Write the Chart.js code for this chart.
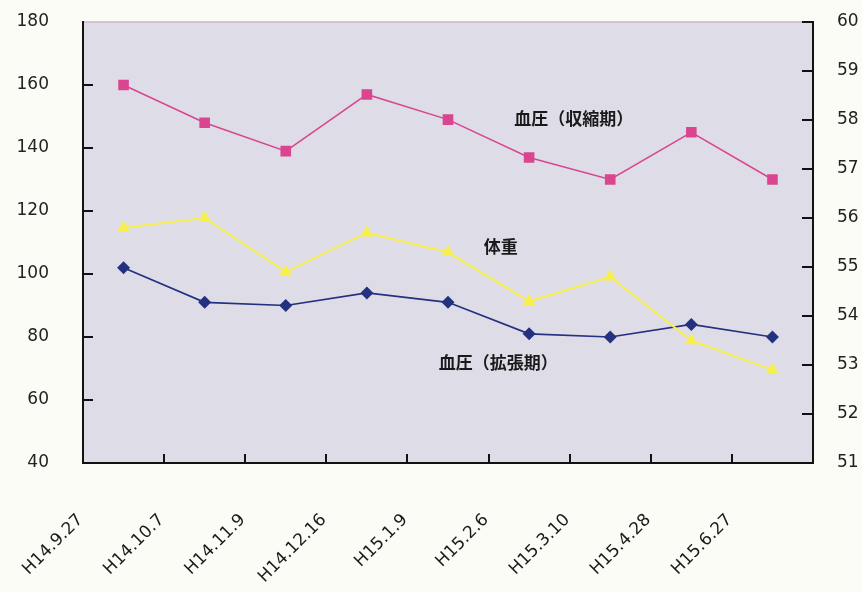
<!DOCTYPE html>
<html>
<head>
<meta charset="utf-8">
<script src="https://cdn.jsdelivr.net/npm/chart.js@4"></script>
<style>
  html, body { margin: 0; padding: 0; background: #fcfcf7; }
  #wrap { width: 862px; height: 592px; }
</style>
</head>
<body>
<div id="wrap"><canvas id="vitalsChart"></canvas></div>
<script>
// visit dates (Heisei era)
const dates = ['H14.9.27', 'H14.10.7', 'H14.11.9', 'H14.12.16', 'H15.1.9', 'H15.2.6', 'H15.3.10', 'H15.4.28', 'H15.6.27'];

// blood pressure, mmHg (left axis)
const systolic = [160, 148, 139, 157, 149, 137, 130, 145, 130];
const diastolic = [102, 91, 90, 94, 91, 81, 80, 84, 80];

// body weight, kg (right axis)
const weight = [55.8, 56.0, 54.9, 55.7, 55.3, 54.3, 54.8, 53.5, 52.9];

const seriesNames = ['血圧（収縮期）', '体重', '血圧（拡張期）'];

const tickFont = { family: 'DejaVu Sans', size: 17 };

// plot background, top rule and the short inward tick marks
const frame = {
    id: 'frame',
    beforeDraw(chart) {
        const { ctx, chartArea: a } = chart;
        ctx.save();
        ctx.fillStyle = '#dedce7';
        ctx.fillRect(a.left, a.top, a.right - a.left, a.bottom - a.top);
        ctx.strokeStyle = '#cdb3c4';
        ctx.lineWidth = 1.5;
        ctx.beginPath();
        ctx.moveTo(a.left, a.top);
        ctx.lineTo(a.right, a.top);
        ctx.stroke();
        ctx.restore();
    },
    beforeDatasetsDraw(chart) {
        const { ctx, chartArea: a, scales } = chart;
        ctx.save();
        ctx.strokeStyle = '#111';
        ctx.lineWidth = 2;
        // y ticks on the left axis point right, on the right axis point left
        scales.y.ticks.forEach(t => {
            const py = Math.round(scales.y.getPixelForValue(t.value));
            if (py <= a.top + 1 || py >= a.bottom - 1) return;
            ctx.beginPath();
            ctx.moveTo(a.left, py);
            ctx.lineTo(a.left + 10, py);
            ctx.stroke();
        });
        scales.y1.ticks.forEach(t => {
            const py = Math.round(scales.y1.getPixelForValue(t.value));
            if (py >= a.bottom - 1) return;
            ctx.beginPath();
            ctx.moveTo(a.right, py);
            ctx.lineTo(a.right - 11, py);
            ctx.stroke();
        });
        // x ticks sit between categories and point up
        for (let i = 1; i < dates.length; i++) {
            const px = Math.round(scales.x.getPixelForValue(i - 0.5));
            ctx.beginPath();
            ctx.moveTo(px, a.bottom);
            ctx.lineTo(px, a.bottom - 9);
            ctx.stroke();
        }
        ctx.restore();
    },
    afterDatasetsDraw(chart) {
        const { ctx, scales } = chart;
        // series names written next to their lines
        const spots = [[5.55, 149.5], [4.65, 108.6], [4.62, 72]];
        ctx.save();
        ctx.fillStyle = '#1a1a1a';
        ctx.font = 'bold 17px "Noto Sans CJK JP"';
        ctx.textAlign = 'center';
        ctx.textBaseline = 'middle';
        spots.forEach(([xi, v], i) => {
            ctx.fillText(seriesNames[i], scales.x.getPixelForValue(xi), scales.y.getPixelForValue(v));
        });
        ctx.restore();
    }
};

function fixWidth(w) {
    return function (scale) {
        scale.width = w;
        scale.paddingTop = 0;
        scale.paddingBottom = 0;
    };
}

const ctx = document.getElementById('vitalsChart').getContext('2d');

new Chart(ctx, {
    type: 'line',
    data: {
        labels: dates,
        datasets: [
            {
                label: seriesNames[0],
                data: systolic,
                yAxisID: 'y',
                borderColor: '#d9468f',
                backgroundColor: '#d9468f',
                borderWidth: 1.5,
                pointStyle: 'rect',
                pointRadius: 7.5,
                pointBorderWidth: 0
            },
            {
                label: seriesNames[1],
                data: weight,
                yAxisID: 'y1',
                borderColor: '#f6ef4e',
                backgroundColor: '#f6ef4e',
                borderWidth: 2,
                pointStyle: 'triangle',
                pointRadius: 7.5,
                pointBorderWidth: 0
            },
            {
                label: seriesNames[2],
                data: diastolic,
                yAxisID: 'y',
                borderColor: '#23317f',
                backgroundColor: '#23317f',
                borderWidth: 1.6,
                pointStyle: 'rectRot',
                pointRadius: 6.5,
                pointBorderWidth: 0
            }
        ]
    },
    options: {
        responsive: true,
        maintainAspectRatio: false,
        animation: false,
        layout: { padding: { top: 22, left: 0, right: 0, bottom: 0 } },
        plugins: {
            legend: { display: false },
            tooltip: { enabled: false }
        },
        scales: {
            x: {
                offset: true,
                grid: { display: false, drawTicks: false },
                border: { display: true, color: '#111', width: 2 },
                ticks: {
                    font: { family: 'DejaVu Sans', size: 17 },
                    color: '#1a1a1a',
                    minRotation: 45,
                    maxRotation: 45,
                    labelOffset: -43,
                    padding: 47,
                    autoSkip: false
                },
                afterFit(scale) { scale.height = 129; }
            },
            y: {
                position: 'left',
                min: 40,
                max: 180,
                grid: { display: false, drawTicks: false },
                border: { display: true, color: '#111', width: 2 },
                ticks: { stepSize: 20, font: tickFont, color: '#222', padding: 34 },
                afterFit: fixWidth(83)
            },
            y1: {
                position: 'right',
                min: 51,
                max: 60,
                grid: { display: false, drawTicks: false },
                border: { display: true, color: '#111', width: 2 },
                ticks: { stepSize: 1, font: tickFont, color: '#222', padding: 24 },
                afterFit: fixWidth(49)
            }
        }
    },
    plugins: [frame]
});
</script>
</body>
</html>
